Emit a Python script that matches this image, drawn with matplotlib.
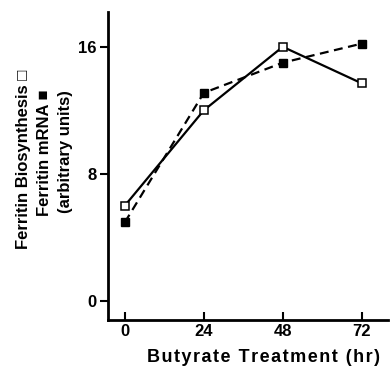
import matplotlib
matplotlib.use("Agg")
import matplotlib.pyplot as plt

# Butyrate treatment time (hr)
hours = [0, 24, 48, 72]
# ferritin biosynthesis (open squares, solid line)
biosynthesis = [6.0, 12.0, 16.0, 13.7]
# ferritin mRNA (filled squares, dashed line)
mrna = [4.95, 13.1, 15.0, 16.2]

xticks = [0, 24, 48, 72]
yticks = [0, 8, 16]
xlabel = "Butyrate Treatment (hr)"

plt.rcParams['font.family'] = ['Liberation Sans', 'DejaVu Sans']
plt.rcParams['font.weight'] = 'bold'

fig = plt.figure(figsize=(3.9, 3.7), dpi=100)
ax = fig.add_axes([0.277, 0.135, 0.718, 0.833])

ax.plot(hours, biosynthesis, color='black', linestyle='-', linewidth=1.6,
	marker='s', markersize=6, markerfacecolor='white', markeredgecolor='black',
	markeredgewidth=1.1)
ax.plot(hours, mrna, color='black', linestyle=(0, (4, 2.5)), linewidth=1.6,
	marker='s', markersize=6, markerfacecolor='black', markeredgecolor='black')

ax.set_xlim(-5.1, 80)
ax.set_ylim(-1.2, 18.2)
ax.set_xticks(xticks)
ax.set_yticks(yticks)
ax.tick_params(axis='x', direction='in', length=6, width=1.5, labelsize=12, pad=3)
ax.tick_params(axis='y', direction='out', length=6, width=1.5, labelsize=12, pad=2)
for lab in ax.get_xticklabels() + ax.get_yticklabels():
	lab.set_fontweight('bold')

for side in ['top', 'right']:
	ax.spines[side].set_visible(False)
for side in ['left', 'bottom']:
	ax.spines[side].set_linewidth(2)

# letter-spaced axis title, as in the original figure
fig.text(0.675, 0.035, "\u200a".join(xlabel), ha='center', va='center',
	fontsize=13, fontweight='bold')

fig.text(0.059, 0.57, "Ferritin Biosynthesis \u25a1", rotation=90, ha='center', va='center',
	fontsize=12, fontweight='bold')
fig.text(0.115, 0.586, "Ferritin mRNA \u25a0", rotation=90, ha='center', va='center',
	fontsize=12, fontweight='bold')
fig.text(0.169, 0.59, "(arbitrary units)", rotation=90, ha='center', va='center',
	fontsize=12, fontweight='bold')

fig.savefig("out.png", dpi=100)
